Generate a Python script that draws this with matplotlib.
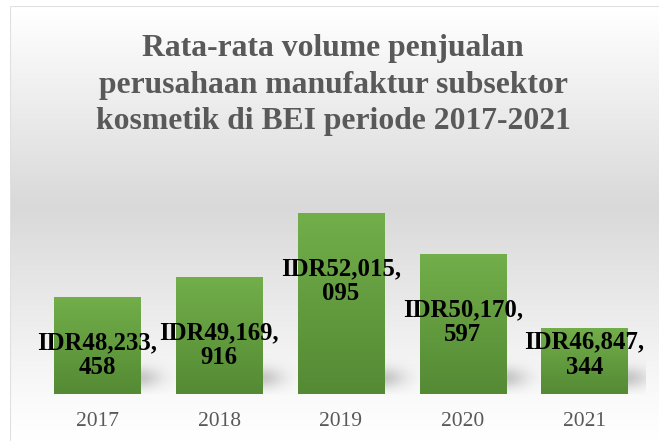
import matplotlib.pyplot as plt
import numpy as np
from matplotlib.colors import LinearSegmentedColormap
from matplotlib.patches import Rectangle

YEARS = ["2017", "2018", "2019", "2020", "2021"]
VOLUMES = [48233458, 49169916, 52015095, 50170597, 46847344]
TITLE = "Rata-rata volume penjualan\nperusahaan manufaktur subsektor\nkosmetik di BEI periode 2017-2021"

# how far below each bar top the label sits (pixels), labels were placed by hand
LABEL_DROP_PX = [57, 68, 67, 67, 26]

W, H = 659, 441
SERIF = ["Liberation Serif", "DejaVu Serif"]


def fmt_idr(v):
    s = f"IDR{v:,}"
    head, tail = s.rsplit(",", 1)
    return f"{head},\n{tail}"


fig = plt.figure(figsize=(W / 100, H / 100), dpi=100)

# chart-area background: white -> grey -> white
bg = fig.add_axes([0, 0, 1, 1], zorder=0)
bg_cmap = LinearSegmentedColormap.from_list(
    "bg",
    [(0.0, "#ffffff"), (0.02, "#ffffff"), (0.47, "#d9d9d9"), (0.90, "#fafafa"), (1.0, "#ffffff")],
)
bg.imshow(bg_cmap(np.linspace(0, 1, 441))[:, None, :], aspect="auto", extent=[0, W, H, 0])
bg.set_xlim(0, W)
bg.set_ylim(H, 0)
bg.axis("off")
bg.add_patch(Rectangle((9.5, 5.5), W + 20, H + 20, fill=False, ec="#d9d9d9", lw=1.5))
bg.add_patch(Rectangle((0, 0), 9, H, color="white"))
bg.add_patch(Rectangle((0, 0), W, 5, color="white"))

ax = fig.add_axes([36.5 / W, (H - 394) / H, 609 / W, 244 / H], zorder=1)
ax.patch.set_alpha(0)
ymin = 43.91e6
ax.set_ylim(ymin, ymin + 244 / 22.21e-6)
ax.set_xlim(-0.5, len(YEARS) - 0.5)

x = np.arange(len(YEARS))
bars = ax.bar(x, VOLUMES, width=0.71, color="#70ad47", zorder=3)

# green gradient inside each bar and soft shadow behind it
bar_cmap = LinearSegmentedColormap.from_list("bar", ["#548a34", "#72ae4a"])
grad = bar_cmap(np.linspace(0, 1, 200))[::-1, None, :]
for b in bars:
    x0, w, h = b.get_x(), b.get_width(), b.get_height()
    ax.imshow(grad, aspect="auto", extent=[x0, x0 + w, ymin, h], zorder=3)
    b.set_visible(False)

    yy, xx = np.mgrid[0:60, 0:80]
    d = np.exp(-(((xx - 22) / 22.0) ** 2) - (((yy - 38) / 14.0) ** 2))
    shadow = np.zeros((60, 80, 4))
    shadow[..., :3] = 0.55
    shadow[..., 3] = 0.45 * d
    ax.imshow(shadow, aspect="auto", zorder=2,
              extent=[x0 + w - 0.2, x0 + w + 0.45, ymin, ymin + 60 / 22.21e-6 * 0.75],
              interpolation="bilinear")

for i, v in enumerate(VOLUMES):
    ax.annotate(fmt_idr(v), (x[i], v), xytext=(0, -LABEL_DROP_PX[i] * 0.72),
                textcoords="offset points", ha="center", va="center",
                fontsize=17.8, fontweight="bold", family=SERIF, color="black",
                linespacing=1.12, zorder=5)

ax.set_xticks(x)
ax.set_xticklabels(YEARS, family=SERIF, fontsize=15.5, color="#595959")
ax.tick_params(axis="x", length=0, pad=13)
ax.set_yticks([])
for s in ax.spines.values():
    s.set_visible(False)
ax.set_xlim(-0.5, len(YEARS) - 0.5)

fig.text(333 / W, 1 - 85 / H, TITLE, ha="center", va="center", family=SERIF,
         fontsize=22.8, fontweight="bold", color="#595959", linespacing=1.33)

fig.savefig("out.png", dpi=100)
